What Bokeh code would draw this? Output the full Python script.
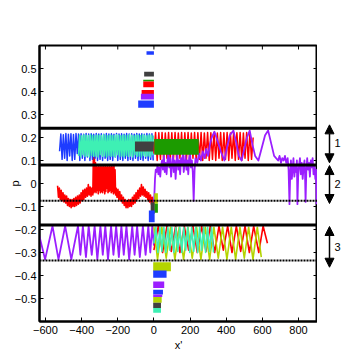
from bokeh.plotting import figure
from bokeh.models import Range1d, FixedTicker, Span, Arrow, NormalHead
from bokeh.layouts import row
from bokeh.core.properties import value
from bokeh.embed import file_html
from bokeh.resources import INLINE

# ---------------- data ----------------
x_ticks = [-600, -400, -200, 0, 200, 400, 600, 800]
x_tick_labels = ["\u2212600", "\u2212400", "\u2212200", "0", "200", "400", "600", "800"]
y_ticks = [0.5, 0.4, 0.3, 0.2, 0.1, 0.0, -0.1, -0.2, -0.3, -0.4, -0.5]
y_tick_labels = ["0.5", "0.4", "0.3", "0.2", "0.1", "0", "\u22120.1", "\u22120.2", "\u22120.3", "\u22120.4", "\u22120.5"]

band_edges = [0.24, 0.08, -0.18]
dotted_levels = [-0.075, -0.335]

arrow_top = [0.255, 0.078, -0.187]
arrow_bottom = [0.09, -0.087, -0.364]
arrow_labels = ["1", "2", "3"]
arrow_label_y = [0.174, 0.0, -0.278]

# band 1 (blue zigzag)
blue1_x = [-522, -515, -508, -501, -494, -487, -480, -473, -466, -459, -452, -445, -438, -431, -424,
           -417, -410, -403, -396, -389, -382, -375, -368, -361, -354, -347, -340, -333, -326, -319,
           -312, -305, -298, -291, -284, -277, -270, -263, -256, -249, -242, -235, -228, -221, -214,
           -207, -200, -193, -186, -179, -172, -165, -158, -151, -144, -137, -130, -123, -116, -109,
           -102, -95, -88, -81, -74, -67, -60, -53, -46, -39, -32, -25, -18, -11, -4]
blue1_y = [0.14, 0.215, 0.105, 0.212, 0.11, 0.217, 0.10, 0.214, 0.12, 0.216,
           0.10, 0.213, 0.105, 0.217, 0.13, 0.215, 0.10, 0.216, 0.11, 0.214,
           0.10, 0.217, 0.115, 0.215, 0.10, 0.216, 0.105, 0.214, 0.11, 0.217,
           0.10, 0.215, 0.105, 0.216, 0.10, 0.214, 0.11, 0.217, 0.10, 0.215,
           0.105, 0.216, 0.10, 0.214, 0.115, 0.217, 0.10, 0.215, 0.105, 0.216,
           0.10, 0.214, 0.11, 0.217, 0.10, 0.215, 0.105, 0.216, 0.10, 0.214,
           0.11, 0.217, 0.10, 0.215, 0.105, 0.216, 0.10, 0.214, 0.11, 0.217,
           0.10, 0.215, 0.105, 0.216, 0.10]

# band 1 (aquamarine zigzag)
aqua1_x = [-417, -411, -405, -399, -393, -387, -381, -375, -369, -363, -357, -351, -345, -339, -333,
           -327, -321, -315, -309, -303, -297, -291, -285, -279, -273, -267, -261, -255, -249, -243,
           -237, -231, -225, -219, -213, -207, -201, -195, -189, -183, -177, -171, -165, -159, -153,
           -147, -141, -135, -129, -123, -117, -111, -105, -99, -93, -87, -81, -75, -69, -63,
           -57, -51, -45, -39, -33, -27, -21, -15, -9, -3]
aqua1_y = [0.12, 0.21, 0.115, 0.208, 0.125, 0.212, 0.118, 0.21, 0.12, 0.209,
           0.115, 0.212, 0.122, 0.21, 0.118, 0.208, 0.12, 0.211, 0.115, 0.21,
           0.125, 0.209, 0.118, 0.212, 0.12, 0.21, 0.115, 0.208, 0.122, 0.211,
           0.118, 0.21, 0.12, 0.209, 0.115, 0.212, 0.125, 0.21, 0.118, 0.208,
           0.12, 0.211, 0.115, 0.21, 0.122, 0.209, 0.118, 0.212, 0.12, 0.21,
           0.115, 0.208, 0.125, 0.211, 0.118, 0.21, 0.12, 0.209, 0.115, 0.212,
           0.122, 0.21, 0.118, 0.208, 0.12, 0.211, 0.115, 0.21, 0.125, 0.209]

# band 1 (red zigzag)
red1_x = [0, 9, 18, 27, 36, 45, 54, 63, 72, 81, 90, 99, 108, 117, 126, 135, 144, 153, 162, 171,
          180, 189, 198, 207, 216, 225, 234, 243, 252, 261, 270, 279, 288, 297, 306, 315, 324, 333,
          342, 351, 360, 369, 378, 387, 396, 405, 414, 423, 432, 441, 450, 459, 468, 477, 486, 495,
          504, 513, 522, 531, 540, 549]
red1_y = [0.13, 0.222, 0.10, 0.221, 0.105, 0.222, 0.10, 0.22, 0.11, 0.222,
          0.10, 0.221, 0.105, 0.222, 0.10, 0.22, 0.11, 0.222, 0.10, 0.221,
          0.105, 0.222, 0.10, 0.22, 0.11, 0.222, 0.10, 0.221, 0.105, 0.222,
          0.10, 0.22, 0.11, 0.222, 0.10, 0.221, 0.105, 0.222, 0.10, 0.22,
          0.11, 0.222, 0.10, 0.221, 0.105, 0.222, 0.10, 0.22, 0.11, 0.222,
          0.10, 0.221, 0.105, 0.222, 0.10, 0.22, 0.11, 0.222, 0.10, 0.221,
          0.105, 0.20]

# band 2 (noisy red)
red2_x = [-533, -528, -523, -518, -513, -508, -503, -498, -493, -488, -483, -478, -473, -468, -463,
          -458, -453, -448, -443, -438, -433, -428, -423, -418, -413, -408, -403, -398, -393, -388,
          -383, -378, -373, -368, -363, -358, -353, -348, -343, -338,
          -335, -332, -329, -326, -323, -320, -317, -314, -311, -308, -305, -302, -299, -296, -293,
          -290, -287, -284, -281, -278, -275, -272, -269, -266, -263, -260, -257, -254, -251, -248,
          -245, -242, -239, -236, -233, -230, -227, -224, -221, -218, -215, -212,
          -209, -204, -199, -194, -189, -184, -179, -174, -169, -164, -159, -154, -149, -144, -139,
          -134, -129, -124, -119, -114, -109, -104, -99, -94, -89, -84, -79, -74, -69, -64,
          -59, -54, -49, -44, -39, -34, -29, -24, -19, -14, -9, -4, 0]
red2_y = [-0.01, -0.06, -0.02, -0.07, -0.03, -0.075, -0.04, -0.08, -0.05, -0.085,
          -0.055, -0.095, -0.065, -0.10, -0.07, -0.105, -0.07, -0.10, -0.065, -0.10,
          -0.06, -0.095, -0.055, -0.09, -0.05, -0.085, -0.04, -0.075, -0.03, -0.07,
          -0.025, -0.06, -0.02, -0.055, -0.005, -0.05, -0.015, -0.055, -0.02, -0.05,
          0.12, -0.04, 0.115, -0.035, 0.09, -0.04, 0.075, -0.03, 0.07, -0.045,
          0.075, -0.03, 0.07, -0.04, 0.075, -0.035, 0.07, -0.04, 0.075, -0.03,
          0.07, -0.045, 0.075, -0.035, 0.07, -0.02, 0.075, -0.04, 0.07, -0.035,
          0.075, -0.03, 0.07, -0.04, 0.075, -0.035, 0.07, -0.045, 0.075, -0.04,
          0.06, -0.05,
          -0.02, -0.06, -0.025, -0.07, -0.035, -0.075, -0.05, -0.085, -0.06, -0.095,
          -0.07, -0.105, -0.075, -0.105, -0.07, -0.10, -0.07, -0.10, -0.06, -0.09,
          -0.05, -0.085, -0.04, -0.07, -0.03, -0.065, -0.02, -0.055, -0.005, -0.05,
          -0.015, -0.055, -0.025, -0.06, -0.035, -0.07, -0.04, -0.08, -0.05, -0.09,
          -0.06, -0.095, -0.08]

# purple trajectory (bands 1 and 2)
purple_x = [0, 3, 6, 10, 15, 20, 25, 30, 35, 40, 45, 50, 55, 60, 65, 70, 75, 80, 85, 90,
            95, 100, 105, 110, 115, 120, 125, 130, 135, 140, 145, 150, 155, 160, 165, 170, 175, 180, 185, 190,
            195, 200, 205, 210, 215, 220, 225, 230, 240, 250, 260, 270, 280, 290, 300, 310, 320, 335, 350, 370,
            390, 405, 420, 440, 455, 470, 485, 500, 515, 530, 545, 560, 578, 595, 615, 632, 650, 665, 687, 695,
            703, 710, 718, 725, 732, 740, 745, 750, 754, 758, 763, 768, 772, 777, 782, 787, 791, 794, 798, 803,
            808, 813, 818, 823, 828, 833, 836, 839, 843, 848, 853, 858, 863, 868, 873, 878, 883, 888, 893, 897, 900]
purple_y = [-0.08, -0.04, 0.02, 0.06, 0.05, 0.08, 0.04, 0.07, 0.03, 0.08,
            0.10, 0.06, 0.12, 0.05, 0.09, 0.04, 0.10, 0.13, 0.07, 0.11,
            0.03, 0.08, 0.12, 0.05, 0.10, 0.02, 0.09, 0.13, 0.06, 0.10,
            0.04, 0.11, 0.08, 0.13, 0.05, 0.09, 0.12, 0.06, 0.10, 0.04,
            0.11, 0.13, 0.07, 0.10, 0.05, -0.075, 0.06, 0.11, 0.09, 0.13,
            0.10, 0.14, 0.11, 0.15, 0.12, 0.17, 0.20, 0.225, 0.19, 0.14,
            0.10, 0.16, 0.21, 0.23, 0.18, 0.12, 0.10, 0.15, 0.20, 0.23,
            0.17, 0.12, 0.10, 0.15, 0.21, 0.23, 0.17, 0.12, 0.10, 0.12,
            0.09, 0.11, 0.10, 0.12, 0.09, 0.11, 0.06, -0.09, 0.04, 0.10,
            0.02, 0.07, 0.11, 0.03, 0.08, 0.05, 0.10, -0.09, 0.03, 0.08,
            0.11, 0.04, 0.09, 0.02, 0.07, 0.10, 0.04, -0.08, 0.05, 0.11,
            0.06, 0.09, 0.03, 0.10, 0.07, 0.11, 0.04, 0.08, 0.02, 0.06, -0.09]

# band 3
purple3_x = [-633, -602, -561, -528, -491, -457, -420, -407, -393, -376, -361, -344, -328, -313, -296,
             -283, -269, -254, -237, -224, -209, -194, -180, -167, -152, -137, -120, -107, -93, -78,
             -61, -46, -31, -20, -9, 0]
purple3_y = [-0.23, -0.33, -0.185, -0.33, -0.185, -0.33, -0.185, -0.31, -0.185, -0.32,
             -0.185, -0.31, -0.185, -0.33, -0.185, -0.31, -0.185, -0.33, -0.185, -0.31,
             -0.185, -0.32, -0.185, -0.31, -0.185, -0.33, -0.185, -0.31, -0.185, -0.32,
             -0.185, -0.31, -0.185, -0.30, -0.185, -0.27]
aqua3_x = [0, 11, 22, 33, 44, 55, 66, 77, 88, 99, 110, 121, 132, 143, 154, 165, 176, 187, 198, 209,
           220, 231, 242, 253, 264, 275, 286, 297, 308, 319, 330]
aqua3_y = [-0.26, -0.19, -0.30, -0.19, -0.295, -0.19, -0.30, -0.19, -0.29, -0.19,
           -0.30, -0.19, -0.295, -0.19, -0.30, -0.19, -0.29, -0.19, -0.30, -0.19,
           -0.295, -0.19, -0.30, -0.19, -0.29, -0.19, -0.30, -0.19, -0.295, -0.19, -0.30]
lime3_x = [0, 20, 44, 68, 92, 116, 140, 164, 188, 212, 236, 260, 284, 308, 332, 356, 380, 404, 428,
           452, 476, 500, 524, 548, 572, 594]
lime3_y = [-0.19, -0.33, -0.19, -0.325, -0.19, -0.33, -0.19, -0.33, -0.19, -0.325,
           -0.19, -0.33, -0.19, -0.33, -0.19, -0.325, -0.19, -0.33, -0.19, -0.33,
           -0.19, -0.325, -0.19, -0.33, -0.19, -0.32]
red3_x = [0, 24, 48, 72, 96, 120, 144, 168, 192, 216, 240, 264, 288, 312, 336, 360, 384, 408, 432,
          456, 480, 504, 528, 552, 580, 604, 628]
red3_y = [-0.29, -0.185, -0.30, -0.185, -0.295, -0.185, -0.30, -0.185, -0.29, -0.185,
          -0.30, -0.185, -0.295, -0.185, -0.30, -0.185, -0.29, -0.185, -0.30, -0.185,
          -0.295, -0.185, -0.30, -0.185, -0.30, -0.185, -0.26]

# blocks in band 1
block1_left = [-105, 2]
block1_right = [0, 248]
block1_bottom = [0.139, 0.125]
block1_top = [0.183, 0.194]

# bars above the bands
top_left = [-41, -54, -59, -59, -68, -72, -87]
top_right = [0, 0, 0, 0, 0, 0, 0]
top_bottom = [0.56, 0.465, 0.444, 0.419, 0.387, 0.365, 0.329]
top_top = [0.575, 0.486, 0.451, 0.443, 0.407, 0.39, 0.361]

# bars inside band 2 near x' = 0
mid_left = [2, 2, -18, -28]
mid_right = [22, 22, 4, 4]
mid_bottom = [-0.088, -0.127, -0.132, -0.168]
mid_top = [-0.042, -0.088, -0.081, -0.117]

# bars below the bands
bot_left = [-4, -4, -4, -4, -4, -4, -4, -4]
bot_right = [94, 70, 57, 50, 46, 43, 39, 39]
bot_bottom = [-0.381, -0.41, -0.454, -0.483, -0.493, -0.519, -0.541, -0.562]
bot_top = [-0.342, -0.378, -0.426, -0.462, -0.483, -0.494, -0.519, -0.541]

# ---------------- styles ----------------
BLUE = "#1e3cff"
AQUA = "#3ef0b4"
GRAY = "#404040"
GREEN = "#1c9b00"
RED = "#ff0000"
PURPLE = "#9b1eff"
LIME = "#b4d400"
FONT = "Liberation Sans"

X0, X1 = -633, 905
Y0, Y1 = -0.6, 0.6
TICK_X = 22      # 4 px in x data units
TICK_Y = 0.0174  # 4 px in y data units

block1_colors = [GRAY, GREEN]
top_colors = [BLUE, GRAY, GREEN, RED, RED, PURPLE, BLUE]
mid_colors = [LIME, GREEN, GRAY, BLUE]
bot_colors = [LIME, BLUE, PURPLE, BLUE, PURPLE, LIME, GRAY, AQUA]

p = figure(width=317, height=353, x_range=Range1d(X0, X1), y_range=Range1d(Y0, Y1),
           output_backend="svg", toolbar_location=None,
           min_border_left=39, min_border_right=0, min_border_top=45, min_border_bottom=32,
           outline_line_color="black", outline_line_width=2)
p.grid.visible = False
p.background_fill_color = "white"

p.xaxis.ticker = FixedTicker(ticks=x_ticks)
p.yaxis.ticker = FixedTicker(ticks=y_ticks)
p.xaxis.major_label_overrides = {t: l for t, l in zip(x_ticks, x_tick_labels)}
p.yaxis.major_label_overrides = {t: l for t, l in zip(y_ticks, y_tick_labels)}
for ax in (p.xaxis[0], p.yaxis[0]):
    ax.major_tick_in = 4
    ax.major_tick_out = 0
    ax.minor_tick_in = 0
    ax.minor_tick_out = 0
    ax.axis_line_width = 2
    ax.axis_line_color = "black"
    ax.major_tick_line_color = "black"
    ax.major_label_text_font = FONT
    ax.major_label_text_font_size = "11px"
    ax.major_label_text_color = "black"
    ax.axis_label_text_font = FONT
    ax.axis_label_text_font_size = "11px"
    ax.axis_label_text_font_style = "normal"
    ax.axis_label_text_color = "black"
p.yaxis[0].major_label_standoff = 3
p.yaxis[0].axis_label = "p"
p.yaxis[0].axis_label_standoff = -9
p.xaxis[0].major_label_standoff = 4
p.xaxis[0].axis_label = "x'"
p.xaxis[0].axis_label_standoff = 2

# inward ticks on the top and right frame edges
p.segment(x0=x_ticks, y0=[Y1] * len(x_ticks), x1=x_ticks, y1=[Y1 - TICK_Y] * len(x_ticks),
          line_color="black", line_width=1)
p.segment(x0=[X1] * len(y_ticks), y0=y_ticks, x1=[X1 - TICK_X] * len(y_ticks), y1=y_ticks,
          line_color="black", line_width=1)


def zig(xs, ys, color, w):
    n = min(len(xs), len(ys))
    p.line(xs[:n], ys[:n], line_color=color, line_width=w, line_join="round")


# band 3
zig(purple3_x, purple3_y, PURPLE, 1.8)
zig(red3_x, red3_y, RED, 1.6)
zig(lime3_x, lime3_y, LIME, 1.6)
zig(aqua3_x, aqua3_y, AQUA, 1.6)
# band 2
zig(red2_x, red2_y, RED, 1.6)
# band 1
zig(blue1_x, blue1_y, BLUE, 1.5)
zig(aqua1_x, aqua1_y, AQUA, 1.5)
p.quad(left=block1_left[:1], right=block1_right[:1], bottom=block1_bottom[:1], top=block1_top[:1],
       fill_color=block1_colors[0], line_color=None)
zig(red1_x, red1_y, RED, 1.5)
zig(purple_x, purple_y, PURPLE, 1.8)
p.quad(left=block1_left[1:], right=block1_right[1:], bottom=block1_bottom[1:], top=block1_top[1:],
       fill_color=block1_colors[1], line_color=None)

p.quad(left=top_left, right=top_right, bottom=top_bottom, top=top_top,
       fill_color=top_colors, line_color=None)
p.quad(left=mid_left, right=mid_right, bottom=mid_bottom, top=mid_top,
       fill_color=mid_colors, line_color=None)
p.quad(left=bot_left, right=bot_right, bottom=bot_bottom, top=bot_top,
       fill_color=bot_colors, line_color=None)

for v in band_edges:
    p.add_layout(Span(location=v, dimension="width", line_color="black", line_width=3))
for v in dotted_levels:
    p.add_layout(Span(location=v, dimension="width", line_color="black", line_width=2, line_dash="2 1"))

# right panel with arrows
q = figure(width=36, height=353, x_range=Range1d(0, 36), y_range=Range1d(Y0, Y1),
           output_backend="svg", toolbar_location=None, x_axis_location=None, y_axis_location=None,
           min_border_left=0, min_border_right=0, min_border_top=45, min_border_bottom=32,
           outline_line_color=None)
q.grid.visible = False
for t, b in zip(arrow_top, arrow_bottom):
    q.add_layout(Arrow(x_start=12, y_start=b, x_end=12, y_end=t, line_width=1.5, line_color="black",
                       start=NormalHead(size=9, fill_color="black", line_color="black"),
                       end=NormalHead(size=9, fill_color="black", line_color="black")))
q.text(x=[20] * len(arrow_labels), y=arrow_label_y, text=arrow_labels, text_font=value(FONT),
       text_font_size="11px", text_align="center", text_baseline="middle", text_color="black")

layout = row(p, q)
open("out.html", "w").write(file_html(layout, INLINE))
